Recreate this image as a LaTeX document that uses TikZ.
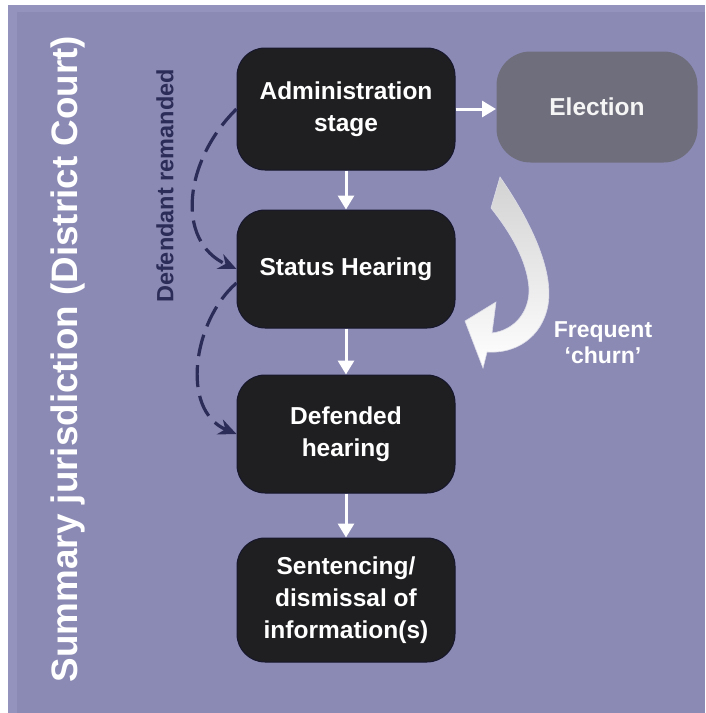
\documentclass[tikz,border=0pt]{standalone}
\usepackage{fontspec}
\setmainfont{Liberation Sans}
\usetikzlibrary{
   arrows.meta,
   positioning
}

\definecolor{panel}{RGB}{139,138,180}
\definecolor{panellight}{RGB}{148,147,190}
\definecolor{stagefill}{RGB}{31,31,33}
\definecolor{electfill}{RGB}{111,110,124}
\definecolor{remandcol}{RGB}{44,44,88}

\begin{document}
\begin{tikzpicture}[
  x=1pt, y=-1pt,
  stagebox/.style={rectangle, rounded corners=28pt, fill=stagefill,
    draw=remandcol!50!black, line width=1pt, text=white, align=center,
    font=\fontsize{24.5}{32}\selectfont\bfseries,
    minimum width=218pt, inner sep=0pt},
  flow/.style={white, line width=3pt, -{Triangle[length=14pt,width=16pt]}},
  remand/.style={remandcol, line width=3.2pt, dash pattern=on 22pt off 9pt,
    -{Stealth[length=18pt,width=16pt]}},
]

% panel
\useasboundingbox (0,0) rectangle (705,713);
\fill[white] (0,0) rectangle (705,713);
\fill[panellight] (8,5) rectangle (705,713);
\fill[panel] (17,12) rectangle (705,713);

% side labels
\node[rotate=90, text=white, font=\fontsize{36.8}{40}\selectfont\bfseries]
  (summary) at (68,359) {Summary jurisdiction (District Court)};
\node[rotate=90, text=remandcol, font=\fontsize{23.5}{26}\selectfont\bfseries]
  (remanded) at (165,186) {Defendant remanded};

% stages
\node[stagebox, minimum height=122pt] (admin) at (346,109) {Administration\\stage};
\node[stagebox, fill=electfill, draw=none, text=white!92!gray,
  minimum width=201pt, minimum height=111pt, rounded corners=34pt]
  (election) at (597,107) {Election};
\node[stagebox, minimum height=118pt] (status) at (346,269) {Status Hearing};
\node[stagebox, minimum height=118pt] (defended) at (346,434) {Defended\\hearing};
\node[stagebox, minimum height=124pt] (sentence) at (346,600)
  {Sentencing/\\dismissal of\\information(s)};

% flow arrows
\draw[flow] (admin.east) -- (admin.east -| election.west);
\draw[flow] (admin.south) -- (status.north);
\draw[flow] (status.south) -- (defended.north);
\draw[flow] (defended.south) -- (sentence.north);

% remand loops
\draw[remand] (admin.west) .. controls +(-52,51) and +(-62,-28) .. (status.west);
\draw[remand] ([yshift=-14pt]status.west) .. controls +(-43,37) and +(-57,-24) .. (defended.west);

% churn arrow
\shade[top color=gray!35!white, bottom color=white, draw=white!70!panel, line width=0.6pt]
  (500,177) .. controls (530,220) and (554,270) .. (548,305)
  .. controls (542,338) and (515,354) .. (487,352)
  -- (483,368) -- (465,321) -- (496,302) -- (492,333)
  .. controls (516,330) and (530,310) .. (529,288)
  .. controls (527,260) and (510,232) .. (491,208) -- cycle;
\node[text=white, align=center, font=\fontsize{23}{26}\selectfont\bfseries]
  (churn) at (603,343) {Frequent\\`churn'};

\end{tikzpicture}
\end{document}
